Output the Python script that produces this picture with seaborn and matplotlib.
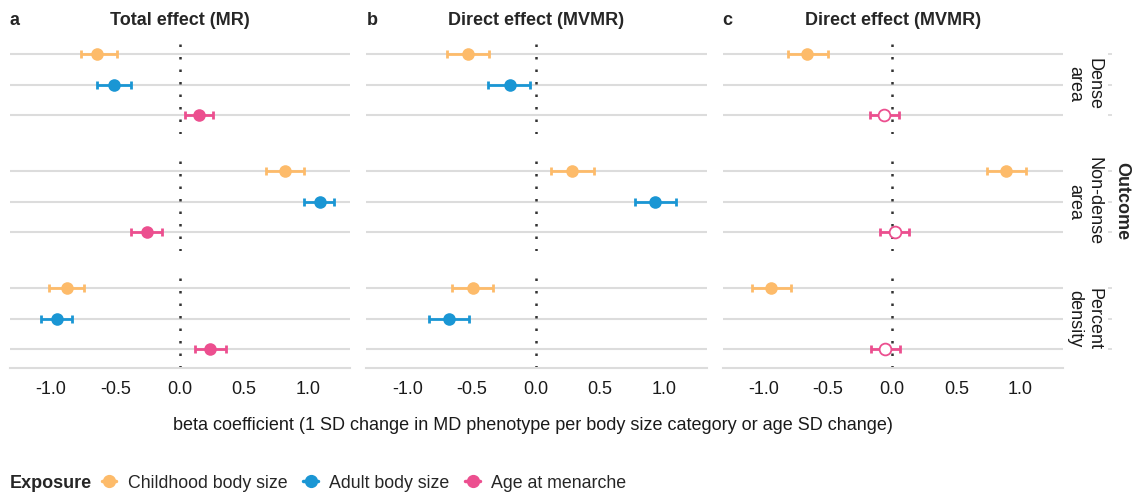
import numpy as np
import pandas as pd
import matplotlib
matplotlib.use("Agg")
from matplotlib import pyplot as plt
from matplotlib.lines import Line2D
import seaborn as sns

# === Data ===
outcomes = ["Dense\narea", "Non-dense\narea", "Percent\ndensity"]
exposures = ["Childhood body size", "Adult body size", "Age at menarche"]
panel_titles = ["Total effect (MR)", "Direct effect (MVMR)", "Direct effect (MVMR)"]
panel_letters = ["a", "b", "c"]
colors = {"Childhood body size": "#FDBB6A",
          "Adult body size": "#1A96D4",
          "Age at menarche": "#EC4F8F"}

nan = np.nan
# order: for each outcome -> childhood, adult, age
beta_a = [-0.64, -0.51, 0.15, 0.82, 1.09, -0.255, -0.88, -0.955, 0.24]
lo_a = [-0.77, -0.64, 0.04, 0.67, 0.97, -0.38, -1.02, -1.075, 0.12]
hi_a = [-0.49, -0.38, 0.26, 0.97, 1.20, -0.135, -0.74, -0.835, 0.36]
sig_a = [True] * 9

beta_b = [-0.53, -0.20, nan, 0.28, 0.93, nan, -0.49, -0.675, nan]
lo_b = [-0.69, -0.37, nan, 0.12, 0.77, nan, -0.655, -0.83, nan]
hi_b = [-0.365, -0.045, nan, 0.45, 1.09, nan, -0.33, -0.52, nan]
sig_b = [True] * 9

beta_c = [-0.66, nan, -0.06, 0.89, nan, 0.02, -0.94, nan, -0.055]
lo_c = [-0.815, nan, -0.175, 0.735, nan, -0.095, -1.09, nan, -0.165]
hi_c = [-0.50, nan, 0.055, 1.045, nan, 0.13, -0.785, nan, 0.06]
sig_c = [True, True, False, True, True, False, True, True, False]

rows = []
for p, (b, lo, hi, sg) in enumerate([(beta_a, lo_a, hi_a, sig_a),
                                     (beta_b, lo_b, hi_b, sig_b),
                                     (beta_c, lo_c, hi_c, sig_c)]):
    for k in range(9):
        rows.append(dict(panel=p, outcome=outcomes[k // 3], exposure=exposures[k % 3],
                         ypos=k % 3, beta=b[k], lo=lo[k], hi=hi[k], sig=sg[k]))
df = pd.DataFrame(rows).dropna(subset=["beta"])

# === Style ===
sns.set_theme(style="white")
plt.rcParams["font.family"] = ["Liberation Sans", "DejaVu Sans"]
plt.rcParams["axes.unicode_minus"] = False
FS = 13
grid_col = "#DCDCDC"

W, H = 1132, 493
fig, axes = plt.subplots(3, 3, figsize=(W / 100, H / 100), dpi=100)
fig.subplots_adjust(left=10 / W, right=1063 / W, top=1 - 35 / H, bottom=1 - 368 / H,
                    wspace=16 / 340, hspace=18 / 99)

xticks = [-1.0, -0.5, 0.0, 0.5, 1.0]
for i, outc in enumerate(outcomes):
    for j in range(3):
        ax = axes[i, j]
        sub = df[(df.panel == j) & (df.outcome == outc)]
        ax.set_xlim(-1.32, 1.33)
        ax.set_ylim(2.6, -0.6)
        ax.set_yticks([0, 1, 2])
        ax.yaxis.grid(True, color=grid_col, linewidth=1.5)
        ax.set_axisbelow(True)
        ax.axvline(0, color="#333333", linewidth=1.8, linestyle=(0, (1, 4)), zorder=1)
        for _, r in sub.iterrows():
            c = colors[r.exposure]
            ax.errorbar(r.beta, r.ypos, xerr=[[r.beta - r.lo], [r.hi - r.beta]], fmt="none",
                        ecolor=c, elinewidth=2.0, capsize=2.9, capthick=2.0, zorder=2)
        for e in exposures:
            s = sub[(sub.exposure == e) & sub.sig]
            if len(s):
                sns.scatterplot(data=s, x="beta", y="ypos", color=colors[e], s=82,
                                linewidth=0, ax=ax, zorder=3, legend=False)
            s = sub[(sub.exposure == e) & ~sub.sig.astype(bool)]
            if len(s):
                sns.scatterplot(data=s, x="beta", y="ypos", color="white", edgecolor=colors[e],
                                s=72, linewidth=1.3, ax=ax, zorder=3, legend=False)
        ax.set_xlabel("")
        ax.set_ylabel("")
        for sp in ax.spines.values():
            sp.set_visible(False)
        ax.set_yticklabels([])
        ax.tick_params(axis="y", length=0)
        ax.set_xticks(xticks)
        if i == 2:
            ax.spines["bottom"].set_visible(True)
            ax.spines["bottom"].set_color(grid_col)
            ax.spines["bottom"].set_linewidth(1.5)
            ax.set_xticklabels([f"{t:.1f}" for t in xticks])
            ax.tick_params(axis="x", length=3, width=1.5, color=grid_col, pad=6,
                           labelsize=FS, labelcolor="#1a1a1a")
        else:
            ax.tick_params(axis="x", length=0, labelbottom=False)
        if i == 0:
            ax.set_title(panel_titles[j], fontsize=FS, fontweight="bold", pad=7)
            ax.set_title(panel_letters[j], loc="left", fontsize=FS, fontweight="bold", pad=7)
        if j == 2:
            ax.spines["right"].set_position(("outward", 32.5))
            ax.yaxis.tick_right()
            ax.tick_params(axis="y", right=True, length=3, width=1.3, color=grid_col)
            ax.text(1.063, 0.5, outc, transform=ax.transAxes, rotation=-90, fontsize=FS,
                    ha="center", va="center", linespacing=1.15, color="#1a1a1a")

fig.text(1122 / W, 1 - 201.5 / H, "Outcome", rotation=-90, fontsize=FS, fontweight="bold",
         ha="center", va="center")
fig.text(533 / W, 1 - 425 / H,
         "beta coefficient (1 SD change in MD phenotype per body size category or age SD change)",
         fontsize=FS, ha="center", va="center", color="#1a1a1a")

# legend
fig.text(10 / W, 1 - 483 / H, "Exposure", fontsize=FS, fontweight="bold", ha="left", va="center")
handles = [Line2D([0], [0], color=colors[e], marker="o", markersize=8.5, linewidth=2.5)
           for e in exposures]
fig.legend(handles, exposures, ncol=3, loc="center left", bbox_to_anchor=(102 / W, 1 - 483 / H),
           frameon=False, fontsize=12.8, handlelength=0.8, handletextpad=0.65, columnspacing=0.9,
           borderaxespad=0, borderpad=0)

fig.savefig("out.png", dpi=100)
